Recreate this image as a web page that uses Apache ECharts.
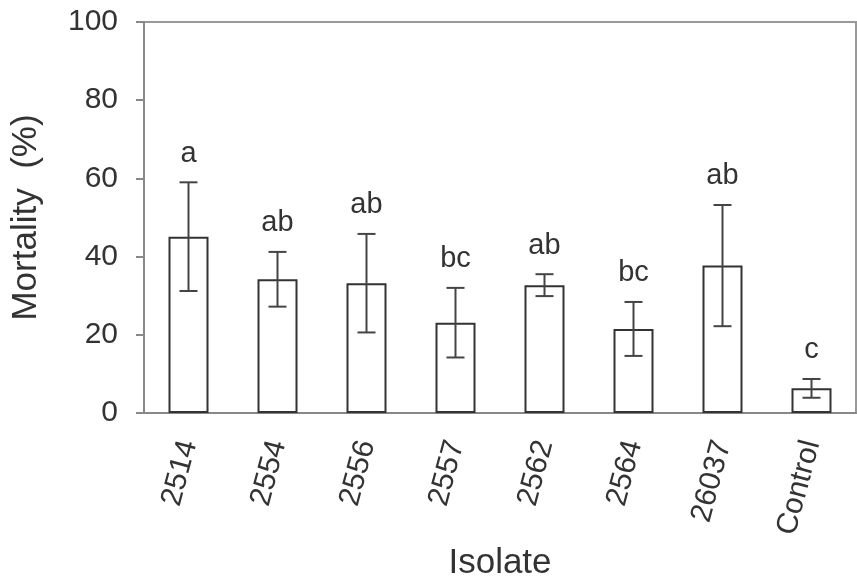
<!DOCTYPE html>
<html>
<head>
<meta charset="utf-8">
<script src="https://cdn.jsdelivr.net/npm/echarts@6/dist/echarts.min.js"></script>
<style>
  html, body {margin: 0; padding: 0; background: #fff;}
  #chart {width: 857px; height: 582px;}
</style>
</head>
<body>
<div id="chart"></div>
<script>
// isolates and mortality (%)
var categories = ['2514', '2554', '2556', '2557', '2562', '2564', '26037', 'Control'];
var mortality = [45.1, 34.2, 33.2, 23.1, 32.7, 21.5, 37.7, 6.3];
var errors = [13.9, 7.0, 12.6, 8.9, 2.8, 6.9, 15.5, 2.4];
var groups = ['a', 'ab', 'ab', 'bc', 'ab', 'bc', 'ab', 'c'];
var yTicks = [0, 20, 40, 60, 80, 100];

var font = 'Liberation Sans, Arial, sans-serif';
var chart = echarts.init(document.getElementById('chart'));

var errData = categories.map(function (c, i) {
    return [i, mortality[i] - errors[i], mortality[i] + errors[i], groups[i]];
});

chart.setOption({
    animation: false,
    grid: {
        left: 144, right: 1, top: 22, bottom: 169,
        outerBoundsMode: 'none', containLabel: false,
        show: true, borderColor: '#999', borderWidth: 2, backgroundColor: 'transparent'
    },
    xAxis: {
        type: 'category',
        data: categories,
        name: 'Isolate',
        nameLocation: 'middle',
        nameGap: 130,
        nameTextStyle: {fontFamily: font, fontSize: 35, color: '#333'},
        axisLine: {lineStyle: {color: '#888', width: 2}},
        axisTick: {length: 8, lineStyle: {color: '#888', width: 2}},
        axisLabel: {
            rotate: 75, margin: 28, fontFamily: font, fontSize: 30, color: '#333'
        }
    },
    yAxis: {
        type: 'value',
        min: 0, max: 100, interval: 20,
        name: 'Mortality  (%)',
        nameLocation: 'middle',
        nameGap: 100,
        nameTextStyle: {fontFamily: font, fontSize: 35, color: '#333'},
        axisLine: {show: true, lineStyle: {color: '#888', width: 2}},
        axisTick: {show: true, length: 8, lineStyle: {color: '#888', width: 2}},
        axisLabel: {
            margin: 26, fontFamily: font, fontSize: 30, color: '#333',
            formatter: function (v) { return yTicks.indexOf(v) >= 0 ? String(v) : ''; }
        },
        splitLine: {show: false}
    },
    series: [
        {
            type: 'bar',
            data: mortality,
            barWidth: 40,
            itemStyle: {color: '#fff', borderColor: '#333', borderWidth: 2}
        },
        {
            type: 'custom',
            data: errData,
            z: 10,
            renderItem: function (params, api) {
                var x = api.value(0);
                var lo = api.coord([x, api.value(1)]);
                var hi = api.coord([x, api.value(2)]);
                var half = 9;
                var style = {stroke: '#444', lineWidth: 2};
                return {
                    type: 'group',
                    children: [
                        {type: 'line', shape: {x1: hi[0], y1: hi[1], x2: lo[0], y2: lo[1]}, style: style},
                        {type: 'line', shape: {x1: hi[0] - half, y1: hi[1], x2: hi[0] + half, y2: hi[1]}, style: style},
                        {type: 'line', shape: {x1: lo[0] - half, y1: lo[1], x2: lo[0] + half, y2: lo[1]}, style: style},
                        {
                            type: 'text',
                            x: hi[0], y: hi[1] - 14,
                            style: {
                                text: api.value(3), fill: '#333',
                                font: '29px ' + font,
                                align: 'center', verticalAlign: 'bottom'
                            }
                        }
                    ]
                };
            }
        }
    ]
});
</script>
</body>
</html>
